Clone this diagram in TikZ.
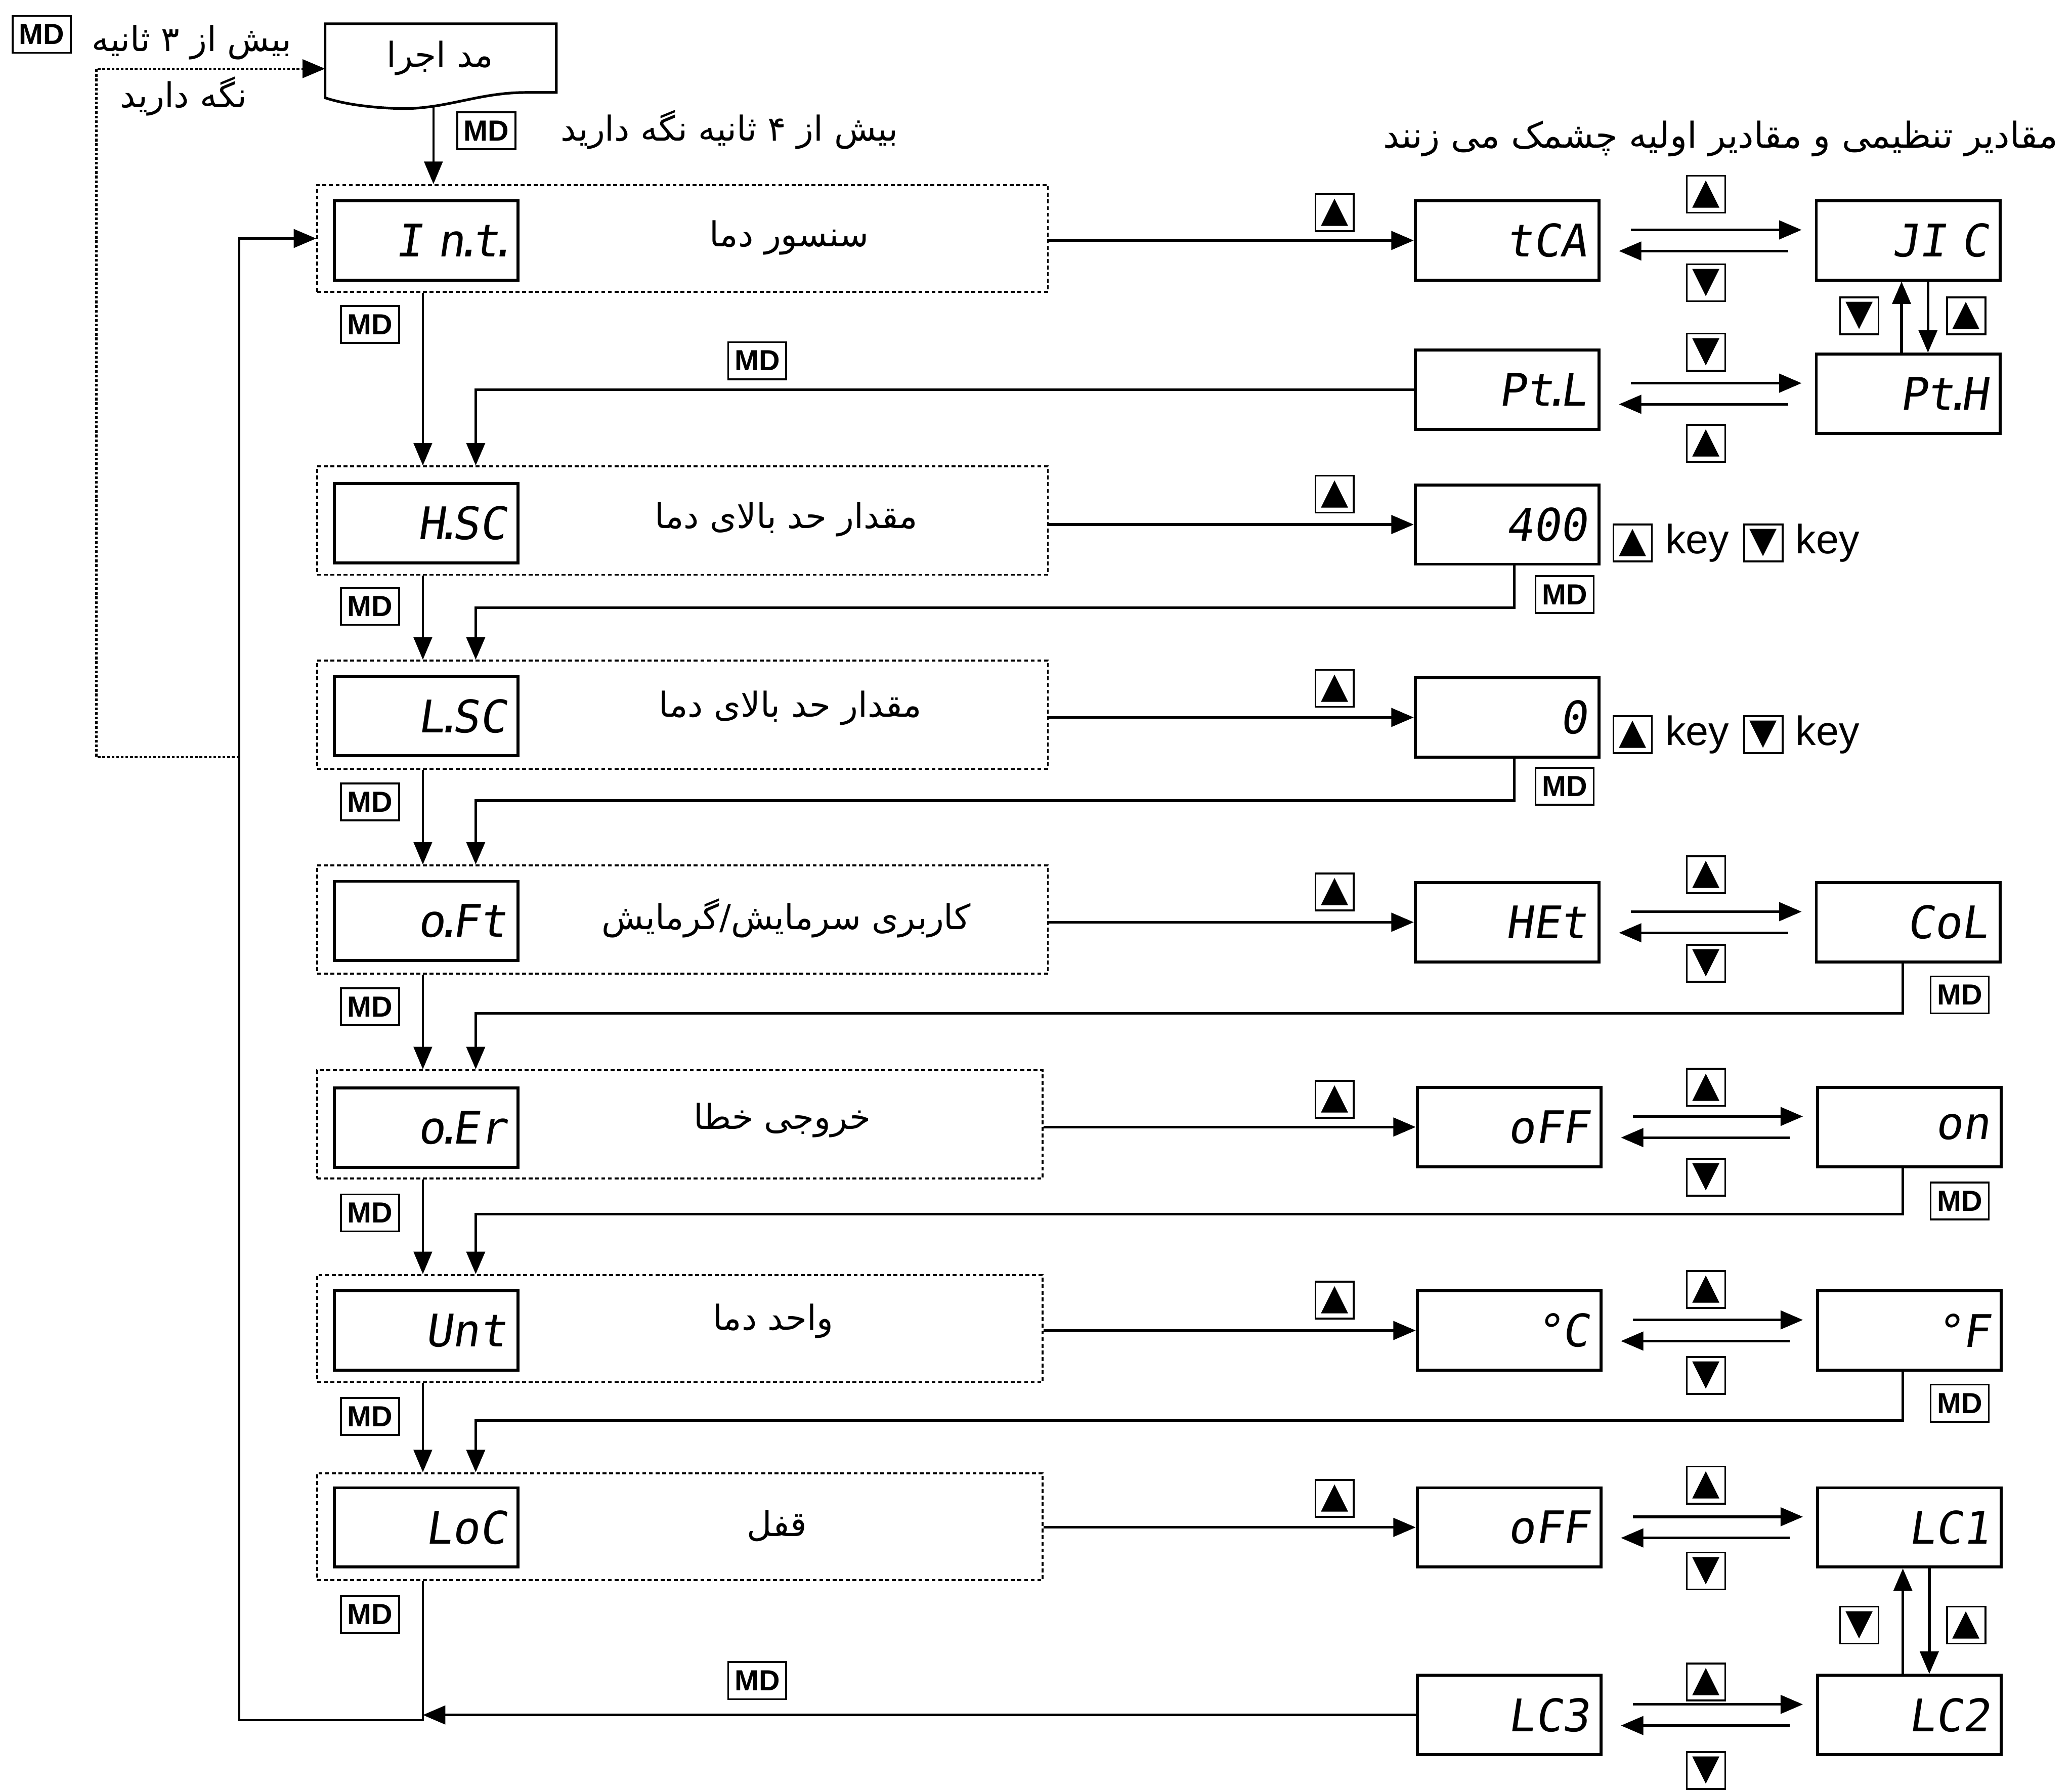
\documentclass[tikz,border=0pt]{standalone}
\usepackage{fontspec}
\usetikzlibrary{arrows.meta,calc}
\TeXXeTstate=1
\newfontfamily\fa[Script=Arabic]{DejaVu Sans}
\newfontfamily\segf[FakeSlant=0.15]{DejaVu Sans Mono}
\newfontfamily\lsans{Liberation Sans}
\newfontfamily\symf{DejaVu Sans}
\newcommand{\FA}[1]{{\fa\beginR #1\endR}}
\newcommand{\dt}{\kern-0.22em.\kern-0.22em}
\tikzset{
 grp/.style={draw, line width=1.4pt, dash pattern=on 3pt off 2pt, minimum height=81pt, inner sep=0pt},
 disp/.style={draw, line width=2.2pt, minimum width=139pt, minimum height=60pt, text width=121pt, inner xsep=9pt, align=right, font=\segf\fontsize{34}{34}\selectfont},
 mdb/.style={draw, line width=1.4pt, minimum width=44pt, minimum height=28pt, inner sep=0pt, font=\lsans\bfseries\fontsize{22}{22}\selectfont},
 kb/.style={draw, line width=1.4pt, minimum width=29pt, minimum height=28pt, inner sep=0pt, font=\symf\fontsize{27}{27}\selectfont},
 lab/.style={font=\fontsize{26}{30}\selectfont, inner sep=0pt},
 keyt/.style={font=\lsans\fontsize{31}{31}\selectfont, inner sep=0pt},
 tip/.style={-{Triangle[length=17pt,width=14pt]}},
 arr/.style={line width=2pt, tip},
 tarr/.style={line width=1.3pt, tip},
 ln/.style={line width=2pt},
 dotl/.style={line width=1.7pt, dash pattern=on 2pt off 1.5pt},
}
\begin{document}
\begin{tikzpicture}[x=1pt,y=-1pt]
\useasboundingbox (0,0) rectangle (1568,1356);
% helper coordinates
\coordinate (ax) at (320,0);
\coordinate (bx) at (360,0);
% top-left area
\node[mdb] (md0) at (31.5,26) {MD};
\node[lab] (t3a) at (145,32) {\FA{بیش از ۳ ثانیه}};
\node[lab] (t3b) at (139,73) {\FA{نگه دارید}};
\node[inner sep=0pt, minimum width=175pt, minimum height=50pt] (run) at (333.5,44) {};
\draw[line width=2pt] (246,18) -- (421,18) -- (421,70) -- (398,70)
  .. controls (360,70) and (335,84) .. (298,82)
  .. controls (275,81) and (258,78) .. (246,74) -- cycle;
\node[lab] (runt) at (333,44) {\FA{مد اجرا}};
\node[mdb] (md00) at (368,99) {MD};
\node[lab] (t4) at (552,98) {\FA{بیش از ۴ ثانیه نگه دارید}};
\node[lab, font=\fontsize{27}{30}\selectfont] (tblink) at (1302,105) {\FA{مقادیر تنظیمی و مقادیر اولیه چشمک می زنند}};
% groups
\node[grp, minimum width=553pt] (g1) at (516.5,180.5) {};
\node[grp, minimum width=553pt, minimum height=82pt] (g2) at (516.5,394) {};
\node[grp, minimum width=553pt, minimum height=82pt] (g3) at (516.5,541) {};
\node[grp, minimum width=553pt, minimum height=82pt] (g4) at (516.5,696) {};
\node[grp, minimum width=549pt, minimum height=82pt] (g5) at (514.5,851) {};
\node[grp, minimum width=549pt] (g6) at (514.5,1005.5) {};
\node[grp, minimum width=549pt] (g7) at (514.5,1155.5) {};
% inner displays
\node[disp] (i1) at (322.5,182) {I n\dt t\dt};
\node[disp] (i2) at (322.5,396) {H\dt SC};
\node[disp] (i3) at (322.5,542) {L\dt SC};
\node[disp] (i4) at (322.5,697) {o\dt Ft};
\node[disp] (i5) at (322.5,853.5) {o\dt Er};
\node[disp] (i6) at (322.5,1007) {Unt};
\node[disp] (i7) at (322.5,1156) {LoC};
% labels
\node[lab] (l1) at (597,180) {\FA{سنسور دما}};
\node[lab] (l2) at (595,393) {\FA{مقدار حد بالای دما}};
\node[lab] (l3) at (598,536) {\FA{مقدار حد بالای دما}};
\node[lab] (l4) at (595,695) {\FA{کاربری سرمایش/گرمایش}};
\node[lab] (l5) at (592,848) {\FA{خروجی خطا}};
\node[lab] (l6) at (585,1000) {\FA{واحد دما}};
\node[lab] (l7) at (588,1155) {\FA{قفل}};
% right displays column 1
\node[disp] (r1) at (1140.5,182) {tCA};
\node[disp] (r1b) at (1140.5,295) {Pt\dt L};
\node[disp] (r2) at (1140.5,397) {400};
\node[disp] (r3) at (1140.5,543) {0};
\node[disp] (r4) at (1140.5,698) {HEt};
\node[disp] (r5) at (1142,853) {oFF};
\node[disp] (r6) at (1142,1007) {°C};
\node[disp] (r7) at (1142,1156) {oFF};
\node[disp] (r7b) at (1142,1298) {LC3};
% right displays column 2
\node[disp] (s1) at (1444,182) {JI C};
\node[disp] (s1b) at (1444,298) {Pt\dt H};
\node[disp] (s4) at (1444,698) {CoL};
\node[disp] (s5) at (1445,853) {on};
\node[disp] (s6) at (1445,1007) {°F};
\node[disp] (s7) at (1445,1156) {LC1};
\node[disp] (s7b) at (1445,1298) {LC2};
% up keys on group arrows
\foreach \n/\y in {a1/161,a2/374,a3/521,a4/675,a5/832,a6/984,a7/1134}
  \node[kb] (k\n) at (1010,\y) {▲};
% group -> first value
\foreach \g/\r in {g1/r1,g2/r2,g3/r3,g4/r4,g5/r5,g6/r6,g7/r7}
  \draw[arr] (\g.east |- \r.west) -- (\r.west);
% double arrows between value displays
\foreach \r/\s in {r1/s1,r1b/s1b,r4/s4,r5/s5,r6/s6,r7/s7,r7b/s7b}{
  \draw[arr] ($(\r.east |- \s.center)+(23,-8)$) -- ($(\s.west)+(-10,-8)$);
  \draw[arr] ($(\s.west)+(-20,8)$) -- ($(\r.east |- \s.center)+(14,8)$);
}
% keys on double arrows
\node[kb] (kb1u) at (1291,147) {▲};
\node[kb] (kb1d) at (1291,214) {▼};
\node[kb] (kb2d) at (1291,266.5) {▼};
\node[kb] (kb2u) at (1291,335.5) {▲};
\node[kb] (kb4u) at (1291,662) {▲};
\node[kb] (kb4d) at (1291,729) {▼};
\node[kb] (kb5u) at (1291,823) {▲};
\node[kb] (kb5d) at (1291,891) {▼};
\node[kb] (kb6u) at (1291,976) {▲};
\node[kb] (kb6d) at (1291,1041) {▼};
\node[kb] (kb7u) at (1291,1124) {▲};
\node[kb] (kb7d) at (1291,1189) {▼};
\node[kb] (kb8u) at (1291,1273) {▲};
\node[kb] (kb8d) at (1291,1340) {▼};
% vertical pairs
\draw[arr] ($(s1b.north)+(-5,0)$) -- ($(s1.south)+(-5,0)$);
\draw[arr] ($(s1.south)+(15,0)$) -- ($(s1b.north)+(15,0)$);
\node[kb] (kv1d) at (1407,239) {▼};
\node[kb] (kv1u) at (1488,239) {▲};
\draw[arr] ($(s7b.north)+(-5,0)$) -- ($(s7.south)+(-5,0)$);
\draw[arr] ($(s7.south)+(15,0)$) -- ($(s7b.north)+(15,0)$);
\node[kb] (kv2d) at (1407,1230) {▼};
\node[kb] (kv2u) at (1488,1230) {▲};
% key legends
\node[kb] (kk2u) at (1235.5,411) {▲};
\node[keyt] (kt2a) at (1284.5,411) {key};
\node[kb] (kk2d) at (1334.5,411) {▼};
\node[keyt] (kt2b) at (1383,411) {key};
\node[kb] (kk3u) at (1235.5,556) {▲};
\node[keyt] (kt3a) at (1284.5,556) {key};
\node[kb] (kk3d) at (1334.5,556) {▼};
\node[keyt] (kt3b) at (1383,556) {key};
% main vertical chain
\draw[tarr] (328,80) -- (g1.north -| 328,0);
\foreach \a/\b in {g1/g2,g2/g3,g3/g4,g4/g5,g5/g6,g6/g7}
  \draw[tarr] (\a.south -| ax) -- (\b.north -| ax);
% MD labels at left
\foreach \n/\y in {1/245.5,2/459,3/607,4/762,5/918,6/1072,7/1222}
  \node[mdb] (mdl\n) at (280,\y) {MD};
% return loops
\draw[arr] (r1b.west) -| (g2.north -| bx);
\node[mdb] (mdp) at (573,273) {MD};
\coordinate (c2) at (1146,460);
\coordinate (c3) at (1146,606);
\coordinate (c4) at (1440,767);
\coordinate (c5) at (1440,919);
\coordinate (c6) at (1440,1075);
\draw[arr] (r2.south -| c2) -- (c2) -| (g3.north -| bx);
\draw[arr] (r3.south -| c3) -- (c3) -| (g4.north -| bx);
\draw[arr] (s4.south -| c4) -- (c4) -| (g5.north -| bx);
\draw[arr] (s5.south -| c5) -- (c5) -| (g6.north -| bx);
\draw[arr] (s6.south -| c6) -- (c6) -| (g7.north -| bx);
\node[mdb] (mdr2) at (1184,450) {MD};
\node[mdb] (mdr3) at (1184,595) {MD};
\node[mdb] (mdr4) at (1483,753) {MD};
\node[mdb] (mdr5) at (1483,909) {MD};
\node[mdb] (mdr6) at (1483,1062) {MD};
% bottom return
\coordinate (bot) at (320,1302);
\coordinate (botL) at (181,1302);
\draw[line width=1.7pt, tip] (g7.south -| ax) -- (bot) -- (botL) |- (g1.west);
\draw[arr] (r7b.west) -- (r7b.west -| ax);
\node[mdb] (mdb8) at (573,1272) {MD};
% dotted path
\coordinate (d0) at (181,573);
\coordinate (d1) at (73,573);
\coordinate (d2) at (73,52);
\coordinate (d3) at (246,52);
\draw[dotl] (d0) -- (d1) -- (d2) -- ($(d3)+(-15,0)$);
\draw[line width=1.4pt, tip] ($(d3)+(-17,0)$) -- (d3);
\end{tikzpicture}
\end{document}
